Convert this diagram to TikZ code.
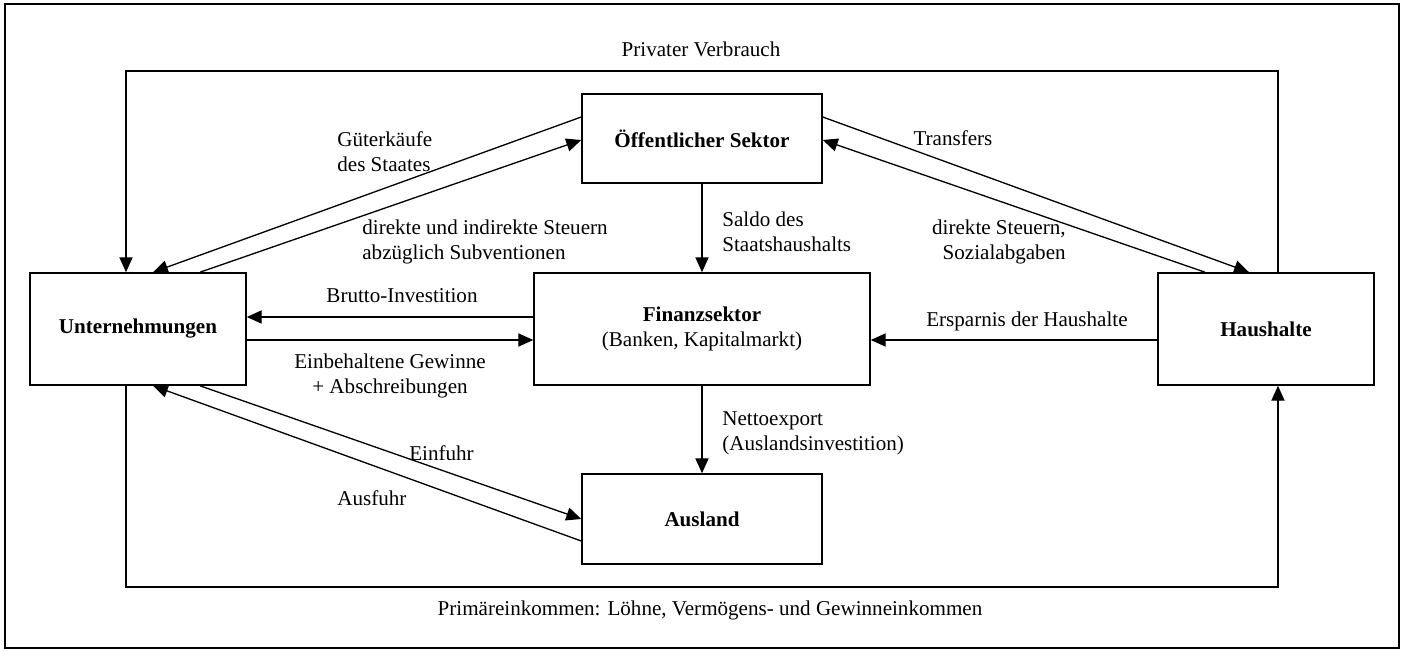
\documentclass[tikz,border=0pt]{standalone}
\usepackage{fontspec}
\setmainfont{Liberation Serif}
\usetikzlibrary{arrows.meta,calc,positioning}

\begin{document}
\begin{tikzpicture}[x=0.02cm,y=-0.02cm,
  font=\fontsize{12}{14.2}\selectfont,
  box/.style={draw,line width=0.9pt,inner sep=0pt,align=center},
  flow/.style={line width=0.75pt,-{Triangle[length=8.5pt,width=7.5pt]}},
  lbl/.style={inner sep=0pt}]
  \useasboundingbox (0,0) rectangle (1404,652);
  \draw[line width=1pt] (5,4) rectangle (1399,648);
  % Sektoren
  \node[box,minimum width=4.32cm,minimum height=2.24cm] (unt) at (138,329) {\textbf{Unternehmungen}};
  \node[box,minimum width=4.8cm,minimum height=1.78cm] (oef) at (702,138.5) {\textbf{Öffentlicher Sektor}};
  \node[box,minimum width=6.72cm,minimum height=2.24cm] (fin) at (702,329) {\textbf{Finanzsektor}\\(Banken, Kapitalmarkt)};
  \node[box,minimum width=4.32cm,minimum height=2.24cm] (hh) at (1266,329) {\textbf{Haushalte}};
  \node[box,minimum width=4.8cm,minimum height=1.8cm] (aus) at (702,519) {\textbf{Ausland}};
  \coordinate (pv) at (702,71);
  \coordinate (pe) at (702,587);
  % Ströme
  \draw[flow] ([xshift=0.24cm]hh.north) |- (pv) -| ([xshift=-0.24cm]unt.north);
  \draw[flow] ([xshift=-0.24cm]unt.south) |- (pe) -| ([xshift=0.24cm]hh.south);
  \draw[flow] ([yshift=0.43cm]oef.west) -- ([xshift=0.3cm]unt.north);
  \draw[flow] ([xshift=1.24cm]unt.north) -- ([yshift=-0.03cm]oef.west);
  \draw[flow] ([yshift=0.43cm]oef.east) -- ([xshift=-0.34cm]hh.north);
  \draw[flow] ([xshift=-1.22cm]hh.north) -- ([yshift=-0.03cm]oef.east);
  \draw[flow] ([yshift=0.24cm]fin.west) -- ([yshift=0.24cm]unt.east);
  \draw[flow] ([yshift=-0.22cm]unt.east) -- ([yshift=-0.22cm]fin.west);
  \draw[flow] ([yshift=-0.22cm]hh.west) -- ([yshift=-0.22cm]fin.east);
  \draw[flow] (oef.south) -- (fin.north);
  \draw[flow] (fin.south) -- (aus.north);
  \draw[flow] ([xshift=1.24cm]unt.south) -- (aus.west);
  \draw[flow] ([yshift=-0.44cm]aus.west) -- ([xshift=0.3cm]unt.south);
  % Beschriftungen
  \node[lbl] (tpv) at (701,49) {Privater Verbrauch};
  \node[lbl,anchor=west,align=left] (tgk) at (337,151.5) {Güterkäufe\\des Staates};
  \node[lbl,anchor=west,align=left] (tst) at (362,241.5) {direkte und indirekte Steuern\\abzüglich Subventionen};
  \node[lbl,anchor=west,align=left] (tsa) at (722,231.5) {Saldo des\\Staatshaushalts};
  \node[lbl] (ttr) at (953,138) {Transfers};
  \node[lbl,anchor=east,align=right] (tds) at (1066,241.5) {direkte Steuern,\\Sozialabgaben};
  \node[lbl] (tbi) at (402,296) {Brutto-Investition};
  \node[lbl,align=center] (teg) at (390,375.5) {Einbehaltene Gewinne\\+ Abschreibungen};
  \node[lbl,anchor=east] (tsp) at (1128,321) {Ersparnis der Haushalte};
  \node[lbl,anchor=west,align=left] (tne) at (722,433.5) {Nettoexport\\(Auslandsinvestition)};
  \node[lbl,anchor=west] (tei) at (409,453) {Einfuhr};
  \node[lbl,anchor=west] (tau) at (337,498) {Ausfuhr};
  \node[lbl] (tpe) at (710,610) {Primäreinkommen: Löhne, Vermögens- und Gewinneinkommen};
\end{tikzpicture}
\end{document}
